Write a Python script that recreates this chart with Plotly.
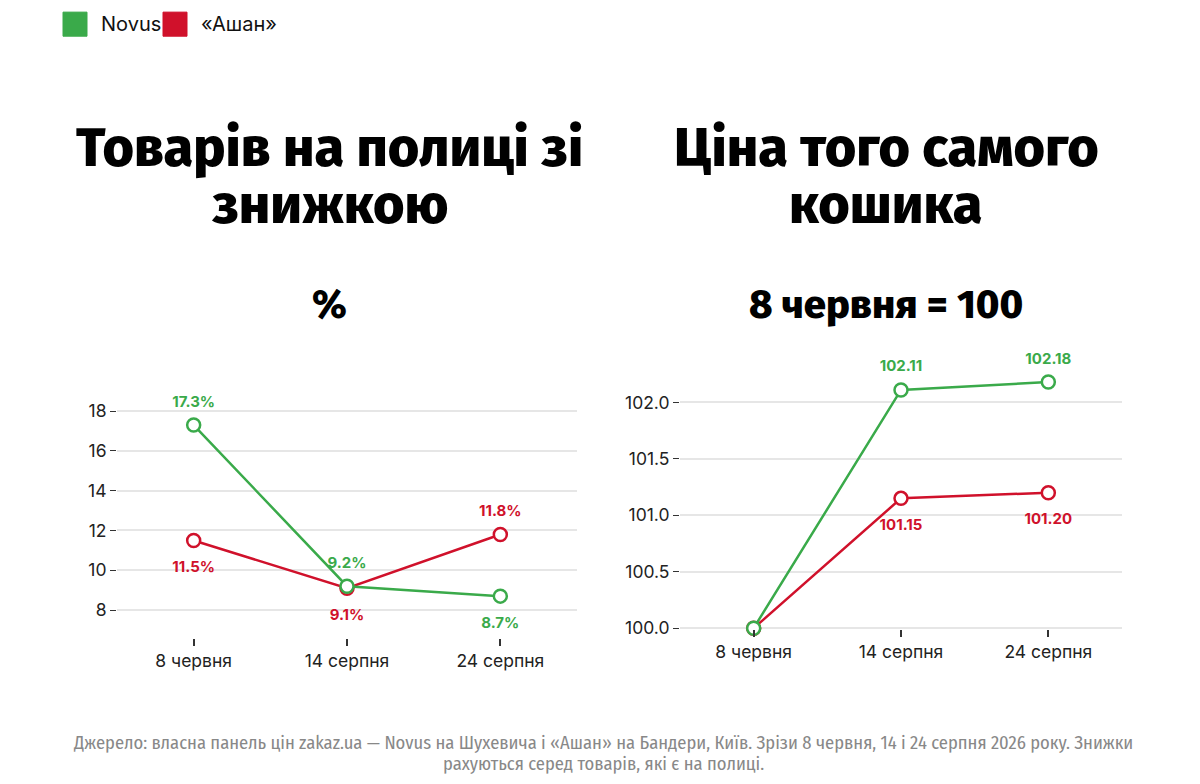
import plotly.graph_objects as go

# the page keeps the browser's 8px body margin, so the figure is made
# 16px smaller than the window and every screen pixel is shifted by 8
OFF = 8
W, H = 1200 - 2 * OFF, 784 - 2 * OFF
# the captured page comes out slightly squeezed vertically; undo that
Y_SCALE = 0.985

dates = ['8 червня', '14 серпня', '24 серпня']
series_names = ['Novus', '«Ашан»']
colors = {'Novus': '#3aaa4a', '«Ашан»': '#d0112b'}

# % of shelf items on discount
discount_novus = [17.3, 9.2, 8.7]
discount_auchan = [11.5, 9.1, 11.8]
discount_ticks = [8, 10, 12, 14, 16, 18]

# price of the same basket, 8 June = 100
basket_novus = [100.0, 102.11, 102.18]
basket_auchan = [100.0, 101.15, 101.20]
basket_ticks = [100.0, 100.5, 101.0, 101.5, 102.0]

titles = [['Товарів на полиці зі', 'знижкою'], ['Ціна того самого', 'кошика']]
subtitles = ['%', '8 червня = 100']
source_lines = [
    'Джерело: власна панель цін zakaz.ua — Novus на Шухевича і «Ашан» на Бандери, Київ. '
    'Зрізи 8 червня, 14 і 24 серпня 2026 року. Знижки',
    'рахуються серед товарів, які є на полиці.',
]

TITLE_FONT = 'Fira Sans, Roboto, sans-serif'
NOTE_FONT = 'Fira Sans Condensed, Roboto Condensed, sans-serif'
BODY_FONT = 'Inter, Roboto, sans-serif'


def px_x(p):
    return (p - OFF) / W


def px_y(p):
    return 1 - (p / Y_SCALE - OFF) / H


fig = go.Figure()

label_font = dict(family=BODY_FONT, size=15, weight='bold')
# invisible marker sizes that push the value labels away from the points
GAP = {'top center': 22, 'bottom center': 31}


def add_series(values, name, xa, ya, fmt, positions):
    fig.add_trace(go.Scatter(
        x=dates, y=values, name=name, xaxis=xa, yaxis=ya,
        mode='lines+markers',
        line=dict(color=colors[name], width=2.5),
        marker=dict(size=13, color='white', line=dict(color=colors[name], width=2.5)),
        cliponaxis=False, showlegend=False,
        hovertemplate='%{x}: %{y}<extra>' + name + '</extra>',
    ))
    texts = [fmt(v) if pos else '' for v, pos in zip(values, positions)]
    pos = [p or 'top center' for p in positions]
    fig.add_trace(go.Scatter(
        x=dates, y=values, name=name, xaxis=xa, yaxis=ya,
        mode='markers+text', text=texts, textposition=pos,
        marker=dict(size=[GAP[p] for p in pos], color='rgba(0,0,0,0)', line=dict(width=0)),
        textfont=dict(label_font, color=colors[name]),
        cliponaxis=False, showlegend=False, hoverinfo='skip',
    ))


pct = lambda v: f'{v:.1f}%'
idx = lambda v: f'{v:.2f}'

add_series(discount_auchan, '«Ашан»', 'x', 'y', pct, ['bottom center', 'bottom center', 'top center'])
add_series(discount_novus, 'Novus', 'x', 'y', pct, ['top center', 'top center', 'bottom center'])
add_series(basket_auchan, '«Ашан»', 'x2', 'y2', idx, [None, 'bottom center', 'bottom center'])
add_series(basket_novus, 'Novus', 'x2', 'y2', idx, [None, 'top center', 'top center'])

tick_font = dict(family=BODY_FONT, size=17.5, color='#222')
xcommon = dict(type='category', range=[-0.5, 2.5], showgrid=False, zeroline=False,
               showline=False, ticks='outside', ticklen=7, tickwidth=1.5,
               tickcolor='#333', tickfont=tick_font, fixedrange=True)
ycommon = dict(showgrid=True, gridcolor='#e6e6e6', gridwidth=1.5, zeroline=False,
               showline=False, ticks='outside', ticklen=6, tickwidth=1.2,
               tickcolor='#333', tickfont=tick_font, fixedrange=True)

fig.update_layout(
    width=W, height=H,
    margin=dict(l=0, r=0, t=0, b=0),
    paper_bgcolor='white', plot_bgcolor='white',
    showlegend=False,
    xaxis=dict(xcommon, domain=[px_x(117), px_x(577)], anchor='y'),
    yaxis=dict(ycommon, domain=[px_y(636), px_y(390)], anchor='x',
               range=[6.586, 18.99], tickvals=discount_ticks),
    xaxis2=dict(xcommon, domain=[px_x(680), px_x(1122)], anchor='y2'),
    yaxis2=dict(ycommon, domain=[px_y(627), px_y(360)], anchor='x2',
                range=[99.991, 102.364], tickvals=basket_ticks, tickformat='.1f'),
)

annotations = []
centers = [329, 886]
for c, lines, sub in zip(centers, titles, subtitles):
    for i, line in enumerate(lines):
        annotations.append(dict(
            x=px_x(c), y=px_y(147 + 57 * i), xref='paper', yref='paper',
            text=line, showarrow=False, xanchor='center', yanchor='middle',
            font=dict(family=TITLE_FONT, size=54, weight=800, color='#000'),
        ))
    annotations.append(dict(
        x=px_x(c), y=px_y(304), xref='paper', yref='paper',
        text=sub, showarrow=False, xanchor='center', yanchor='middle',
        font=dict(family=TITLE_FONT, size=40, weight=800, color='#000'),
    ))

for i, line in enumerate(source_lines):
    annotations.append(dict(
        x=px_x(603), y=px_y(740 + 21 * i), xref='paper', yref='paper',
        text=line, showarrow=False, xanchor='center', yanchor='middle',
        font=dict(family=NOTE_FONT, size=18.5, color='#888'),
    ))

# legend drawn as colour squares with labels
shapes = []
legend_x = [63, 163]
for lx, name in zip(legend_x, series_names):
    shapes.append(dict(type='rect', xref='paper', yref='paper',
                       x0=px_x(lx), x1=px_x(lx + 24), y0=px_y(36), y1=px_y(12),
                       fillcolor=colors[name], line=dict(color=colors[name], width=1)))
    annotations.append(dict(
        x=px_x(lx + 36), y=px_y(24), xref='paper', yref='paper', text=name,
        showarrow=False, xanchor='left', yanchor='middle',
        font=dict(family=BODY_FONT, size=20, color='#111'),
    ))

fig.update_layout(annotations=annotations, shapes=shapes)

fig.write_html('out.html')
